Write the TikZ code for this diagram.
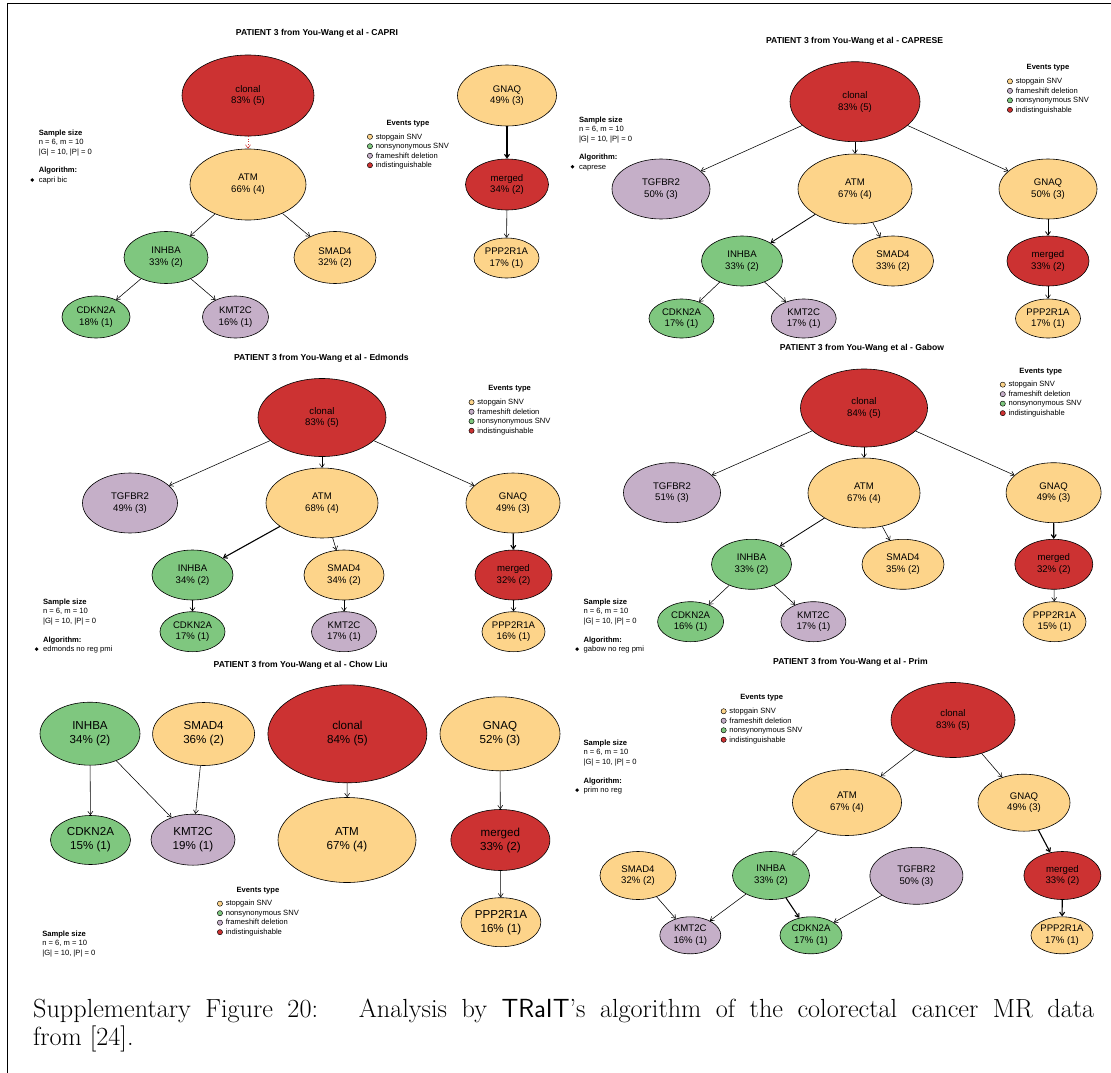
\documentclass[tikz,border=0pt]{standalone}
\usepackage{fontspec}
\usepackage{tikz}
\usetikzlibrary{shapes.geometric,arrows.meta}
\newfontfamily\helv{Liberation Sans}
\definecolor{indred}{RGB}{204,50,50}
\definecolor{snvyellow}{RGB}{253,212,138}
\definecolor{nsgreen}{RGB}{127,199,127}
\definecolor{fsmauve}{RGB}{197,175,200}
\newcommand{\evdot}[1]{\tikz[x=1pt,y=1pt,baseline=-2.3pt]\draw[fill=#1, line width=0.45pt] (0,0) circle (2.6pt);}
\newcommand{\algdot}{\llap{\tikz[x=1pt,y=1pt,baseline=-2.4pt]\fill (0,0) circle (1.9pt);\hspace{4.6pt}}}

\begin{document}
\begin{tikzpicture}[x=1pt, y=-1pt,
  gene/.style={ellipse, draw=black, line width=0.6pt, inner sep=-3pt, align=center,
    font=\helv\fontsize{9.6}{11.7}\selectfont},
  biggene/.style={font=\helv\fontsize{11.6}{14}\selectfont},
  stopgain/.style={gene, fill=snvyellow},
  nonsyn/.style={gene, fill=nsgreen},
  frameshift/.style={gene, fill=fsmauve},
  indist/.style={gene, fill=indred},
  sz/.style 2 args={minimum width=#1pt, minimum height=#2pt},
  edge/.style={-{Straight Barb[length=3.5pt,width=5pt]}, line width=0.55pt},
  hedge/.style={edge, line width=1.1pt},
  ptitle/.style={font=\helv\bfseries\fontsize{8.6}{10}\selectfont, inner sep=0pt},
  info/.style={anchor=north west, align=left, inner sep=0pt,
    font=\helv\fontsize{7.6}{9.5}\selectfont},
  legend/.style={anchor=north, inner sep=0pt, font=\helv\fontsize{7.6}{9.5}\selectfont},
]
  \useasboundingbox (0,0) rectangle (1111,1073);
  % Page frame
  \draw[line width=1pt] (7,1073) -- (7,4) -- (1111,4);

  % ---------------- CAPRI ----------------
  \node[ptitle] (title-a) at (317,33) {PATIENT 3 from You-Wang et al - CAPRI};
  \node[indist, sz={132}{81}] (clonal-a) at (248,95.5) {clonal\\83\% (5)};
  \node[stopgain, sz={116}{71}] (atm-a) at (248,184.5) {ATM\\66\% (4)};
  \node[nonsyn, sz={84}{52}] (inhba-a) at (166,257.5) {INHBA\\33\% (2)};
  \node[stopgain, sz={82}{52}] (smad4-a) at (335,257.5) {SMAD4\\32\% (2)};
  \node[nonsyn, sz={68}{42}] (cdkn2a-a) at (96,317) {CDKN2A\\18\% (1)};
  \node[frameshift, sz={66}{42}] (kmt2c-a) at (235.5,317) {KMT2C\\16\% (1)};
  \node[stopgain, sz={99}{61}] (gnaq-a) at (507,95.5) {GNAQ\\49\% (3)};
  \node[indist, sz={83}{51}] (merged-a) at (507,184.5) {merged\\34\% (2)};
  \node[stopgain, sz={65}{40}] (ppp-a) at (506.5,258) {PPP2R1A\\17\% (1)};

  \draw[edge, indred, dotted] (clonal-a) -- (atm-a);
  \draw[edge] (atm-a) -- (inhba-a);
  \draw[edge] (atm-a) -- (smad4-a);
  \draw[edge] (inhba-a) -- (cdkn2a-a);
  \draw[edge] (inhba-a) -- (kmt2c-a);
  \draw[hedge] (gnaq-a) -- (merged-a);
  \draw[edge] (merged-a) -- (ppp-a);

  \node[info] (info-a) at (38.6,129.5) {\textbf{Sample size}\\n = 6, m = 10\\|G| = 10, |P| = 0\\[9.2pt]
    \textbf{Algorithm:}\\\algdot capri bic};
  \node[legend] (leg-a) at (408,118.5) {%
    \begin{tabular}{@{}c@{\hspace{3pt}}l@{}}
    \multicolumn{2}{c}{\bfseries Events type}\\[4.2pt]
    \evdot{snvyellow} & stopgain SNV\\
    \evdot{nsgreen} & nonsynonymous SNV\\
    \evdot{fsmauve} & frameshift deletion\\
    \evdot{indred} & indistinguishable
    \end{tabular}};

  % ---------------- CAPRESE ----------------
  \node[ptitle] (title-b) at (854.6,41) {PATIENT 3 from You-Wang et al - CAPRESE};
  \node[indist, sz={130}{80}] (clonal-b) at (855,101.7) {clonal\\83\% (5)};
  \node[frameshift, sz={98}{60}] (tgfbr2-b) at (661,189) {TGFBR2\\50\% (3)};
  \node[stopgain, sz={114}{70}] (atm-b) at (855,189) {ATM\\67\% (4)};
  \node[stopgain, sz={98}{60}] (gnaq-b) at (1048,189) {GNAQ\\50\% (3)};
  \node[nonsyn, sz={81}{50}] (inhba-b) at (742,261) {INHBA\\33\% (2)};
  \node[stopgain, sz={81}{50}] (smad4-b) at (893,261) {SMAD4\\33\% (2)};
  \node[indist, sz={82}{50}] (merged-b) at (1048,261) {merged\\33\% (2)};
  \node[nonsyn, sz={65}{39}] (cdkn2a-b) at (681.5,318.5) {CDKN2A\\17\% (1)};
  \node[frameshift, sz={65}{39}] (kmt2c-b) at (803.7,318.5) {KMT2C\\17\% (1)};
  \node[stopgain, sz={65}{39}] (ppp-b) at (1048,318.5) {PPP2R1A\\17\% (1)};

  \draw[edge] (clonal-b) -- (tgfbr2-b);
  \draw[edge] (clonal-b) -- (atm-b);
  \draw[edge] (clonal-b) -- (gnaq-b);
  \draw[edge, line width=0.8pt] (atm-b) -- (inhba-b);
  \draw[edge] (atm-b) -- (smad4-b);
  \draw[edge] (inhba-b) -- (cdkn2a-b);
  \draw[edge] (inhba-b) -- (kmt2c-b);
  \draw[edge, line width=0.8pt] (gnaq-b) -- (merged-b);
  \draw[edge] (merged-b) -- (ppp-b);

  \node[info] (info-b) at (578.8,116.3) {\textbf{Sample size}\\n = 6, m = 10\\|G| = 10, |P| = 0\\[9.2pt]
    \textbf{Algorithm:}\\\algdot caprese};
  \node[legend] (leg-b) at (1048,63.1) {%
    \begin{tabular}{@{}c@{\hspace{3pt}}l@{}}
    \multicolumn{2}{c}{\bfseries Events type}\\[4.2pt]
    \evdot{snvyellow} & stopgain SNV\\
    \evdot{fsmauve} & frameshift deletion\\
    \evdot{nsgreen} & nonsynonymous SNV\\
    \evdot{indred} & indistinguishable
    \end{tabular}};

  % ---------------- Edmonds ----------------
  \node[ptitle] (title-c) at (321.4,358) {PATIENT 3 from You-Wang et al - Edmonds};
  \node[indist, sz={128}{78}] (clonal-c) at (322,417.5) {clonal\\83\% (5)};
  \node[frameshift, sz={95}{60}] (tgfbr2-c) at (130,503) {TGFBR2\\49\% (3)};
  \node[stopgain, sz={112}{70}] (atm-c) at (322,503) {ATM\\68\% (4)};
  \node[stopgain, sz={94}{60}] (gnaq-c) at (513,503) {GNAQ\\49\% (3)};
  \node[nonsyn, sz={81}{50}] (inhba-c) at (192.5,575) {INHBA\\34\% (2)};
  \node[stopgain, sz={80}{50}] (smad4-c) at (344,575) {SMAD4\\34\% (2)};
  \node[indist, sz={77}{50}] (merged-c) at (513.5,575) {merged\\32\% (2)};
  \node[nonsyn, sz={65}{40}] (cdkn2a-c) at (192.5,631.7) {CDKN2A\\17\% (1)};
  \node[frameshift, sz={65}{40}] (kmt2c-c) at (344,631.7) {KMT2C\\17\% (1)};
  \node[stopgain, sz={63}{40}] (ppp-c) at (513.5,631.7) {PPP2R1A\\16\% (1)};

  \draw[edge] (clonal-c) -- (tgfbr2-c);
  \draw[edge] (clonal-c) -- (atm-c);
  \draw[edge] (clonal-c) -- (gnaq-c);
  \draw[hedge] (atm-c) -- (inhba-c);
  \draw[edge] (atm-c) -- (smad4-c);
  \draw[edge] (inhba-c) -- (cdkn2a-c);
  \draw[edge] (smad4-c) -- (kmt2c-c);
  \draw[hedge] (gnaq-c) -- (merged-c);
  \draw[edge] (merged-c) -- (ppp-c);

  \node[info] (info-c) at (42.9,598.6) {\textbf{Sample size}\\n = 6, m = 10\\|G| = 10, |P| = 0\\[9.2pt]
    \textbf{Algorithm:}\\\algdot edmonds no reg pmi};
  \node[legend] (leg-c) at (509.6,384) {%
    \begin{tabular}{@{}c@{\hspace{3pt}}l@{}}
    \multicolumn{2}{c}{\bfseries Events type}\\[4.2pt]
    \evdot{snvyellow} & stopgain SNV\\
    \evdot{fsmauve} & frameshift deletion\\
    \evdot{nsgreen} & nonsynonymous SNV\\
    \evdot{indred} & indistinguishable
    \end{tabular}};

  % ---------------- Gabow ----------------
  \node[ptitle] (title-d) at (862,348.3) {PATIENT 3 from You-Wang et al - Gabow};
  \node[indist, sz={127}{78}] (clonal-d) at (864,408) {clonal\\84\% (5)};
  \node[frameshift, sz={97}{60}] (tgfbr2-d) at (672,492.7) {TGFBR2\\51\% (3)};
  \node[stopgain, sz={112}{70}] (atm-d) at (864,493) {ATM\\67\% (4)};
  \node[stopgain, sz={95}{60}] (gnaq-d) at (1053.6,492.7) {GNAQ\\49\% (3)};
  \node[nonsyn, sz={80}{50}] (inhba-d) at (751.5,564.3) {INHBA\\33\% (2)};
  \node[stopgain, sz={82}{50}] (smad4-d) at (903,564.3) {SMAD4\\35\% (2)};
  \node[indist, sz={78}{50}] (merged-d) at (1053.8,564.3) {merged\\32\% (2)};
  \node[nonsyn, sz={66}{40}] (cdkn2a-d) at (690.6,621.7) {CDKN2A\\16\% (1)};
  \node[frameshift, sz={65}{40}] (kmt2c-d) at (813.4,621.7) {KMT2C\\17\% (1)};
  \node[stopgain, sz={63}{40}] (ppp-d) at (1054.5,621.7) {PPP2R1A\\15\% (1)};

  \draw[edge] (clonal-d) -- (tgfbr2-d);
  \draw[edge] (clonal-d) -- (atm-d);
  \draw[edge] (clonal-d) -- (gnaq-d);
  \draw[edge, line width=0.8pt] (atm-d) -- (inhba-d);
  \draw[edge] (atm-d) -- (smad4-d);
  \draw[edge] (inhba-d) -- (cdkn2a-d);
  \draw[edge] (inhba-d) -- (kmt2c-d);
  \draw[hedge] (gnaq-d) -- (merged-d);
  \draw[edge] (merged-d) -- (ppp-d);

  \node[info] (info-d) at (583.4,598.6) {\textbf{Sample size}\\n = 6, m = 10\\|G| = 10, |P| = 0\\[9.2pt]
    \textbf{Algorithm:}\\\algdot gabow no reg pmi};
  \node[legend] (leg-d) at (1040.8,366.4) {%
    \begin{tabular}{@{}c@{\hspace{3pt}}l@{}}
    \multicolumn{2}{c}{\bfseries Events type}\\[4.2pt]
    \evdot{snvyellow} & stopgain SNV\\
    \evdot{fsmauve} & frameshift deletion\\
    \evdot{nsgreen} & nonsynonymous SNV\\
    \evdot{indred} & indistinguishable
    \end{tabular}};

  % ---------------- Chow Liu ----------------
  \node[ptitle] (title-e) at (300.7,665.7) {PATIENT 3 from You-Wang et al - Chow Liu};
  \node[nonsyn, biggene, sz={100}{63}] (inhba-e) at (90,733.7) {INHBA\\34\% (2)};
  \node[stopgain, biggene, sz={102}{63}] (smad4-e) at (203.6,734) {SMAD4\\36\% (2)};
  \node[indist, biggene, sz={159}{98}] (clonal-e) at (347.4,733.8) {clonal\\84\% (5)};
  \node[stopgain, biggene, sz={120}{74}] (gnaq-e) at (500,733.8) {GNAQ\\52\% (3)};
  \node[nonsyn, biggene, sz={80}{49}] (cdkn2a-e) at (90.5,840) {CDKN2A\\15\% (1)};
  \node[frameshift, biggene, sz={84}{51}] (kmt2c-e) at (193,839.7) {KMT2C\\19\% (1)};
  \node[stopgain, biggene, sz={138}{85}] (atm-e) at (347,840) {ATM\\67\% (4)};
  \node[indist, biggene, sz={99}{61}] (merged-e) at (500.4,840) {merged\\33\% (2)};
  \node[stopgain, biggene, sz={80}{49}] (ppp-e) at (500.9,922.2) {PPP2R1A\\16\% (1)};

  \draw[edge] (inhba-e) -- (cdkn2a-e);
  \draw[edge] (inhba-e) -- (kmt2c-e);
  \draw[edge] (smad4-e) -- (kmt2c-e);
  \draw[edge] (clonal-e) -- (atm-e);
  \draw[edge] (gnaq-e) -- (merged-e);
  \draw[edge] (merged-e) -- (ppp-e);

  \node[info] (info-e) at (42.1,930.3) {\textbf{Sample size}\\n = 6, m = 10\\|G| = 10, |P| = 0};
  \node[legend] (leg-e) at (258,885.4) {%
    \begin{tabular}{@{}c@{\hspace{3pt}}l@{}}
    \multicolumn{2}{c}{\bfseries Events type}\\[4.2pt]
    \evdot{snvyellow} & stopgain SNV\\
    \evdot{nsgreen} & nonsynonymous SNV\\
    \evdot{fsmauve} & frameshift deletion\\
    \evdot{indred} & indistinguishable
    \end{tabular}};

  % ---------------- Prim ----------------
  \node[ptitle] (title-f) at (850.4,662) {PATIENT 3 from You-Wang et al - Prim};
  \node[indist, sz={124}{75}] (clonal-f) at (953,720) {clonal\\83\% (5)};
  \node[stopgain, sz={109}{66}] (atm-f) at (847,802.5) {ATM\\67\% (4)};
  \node[stopgain, sz={92}{57}] (gnaq-f) at (1024,802.7) {GNAQ\\49\% (3)};
  \node[stopgain, sz={76}{48}] (smad4-f) at (638,875.5) {SMAD4\\32\% (2)};
  \node[nonsyn, sz={77}{48}] (inhba-f) at (771,875.5) {INHBA\\33\% (2)};
  \node[frameshift, sz={93}{57}] (tgfbr2-f) at (916.4,875.8) {TGFBR2\\50\% (3)};
  \node[indist, sz={77}{48}] (merged-f) at (1062.4,875.5) {merged\\33\% (2)};
  \node[frameshift, sz={61}{37}] (kmt2c-f) at (690.3,935.3) {KMT2C\\16\% (1)};
  \node[nonsyn, sz={62}{37}] (cdkn2a-f) at (811,935.3) {CDKN2A\\17\% (1)};
  \node[stopgain, sz={62}{37}] (ppp-f) at (1062,935.3) {PPP2R1A\\17\% (1)};

  \draw[edge] (clonal-f) -- (atm-f);
  \draw[edge] (clonal-f) -- (gnaq-f);
  \draw[edge] (atm-f) -- (inhba-f);
  \draw[edge] (smad4-f) -- (kmt2c-f);
  \draw[edge] (inhba-f) -- (kmt2c-f);
  \draw[hedge] (inhba-f) -- (cdkn2a-f);
  \draw[edge] (tgfbr2-f) -- (cdkn2a-f);
  \draw[hedge] (gnaq-f) -- (merged-f);
  \draw[hedge] (merged-f) -- (ppp-f);

  \node[info] (info-f) at (583.4,739.6) {\textbf{Sample size}\\n = 6, m = 10\\|G| = 10, |P| = 0\\[9.2pt]
    \textbf{Algorithm:}\\\algdot prim no reg};
  \node[legend] (leg-f) at (761.7,693) {%
    \begin{tabular}{@{}c@{\hspace{3pt}}l@{}}
    \multicolumn{2}{c}{\bfseries Events type}\\[4.2pt]
    \evdot{snvyellow} & stopgain SNV\\
    \evdot{fsmauve} & frameshift deletion\\
    \evdot{nsgreen} & nonsynonymous SNV\\
    \evdot{indred} & indistinguishable
    \end{tabular}};

  % Caption
  \node[anchor=base west, inner sep=0pt, font=\fontsize{26.2}{28}\selectfont] (cap1) at (33,1017)
    {\makebox[1061pt][s]{Supplementary Figure 20:\quad\ Analysis by \textsf{TRaIT}'s algorithm of the colorectal cancer MR data}};
  \node[anchor=base west, inner sep=0pt, font=\fontsize{26.2}{28}\selectfont] (cap2) at (33,1045) {from [24].};
\end{tikzpicture}
\end{document}
